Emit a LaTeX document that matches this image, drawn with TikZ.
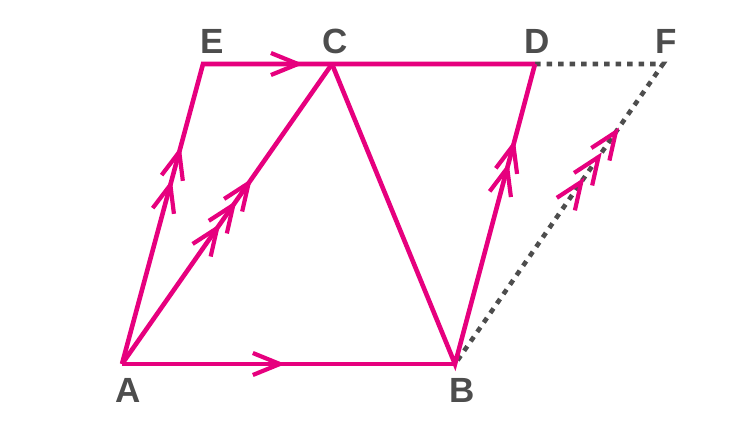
\documentclass[tikz,border=0pt]{standalone}
\usepackage{fontspec}
\setmainfont{Liberation Sans}
\usetikzlibrary{decorations.markings}
\definecolor{pinkc}{HTML}{E6007E}
\definecolor{grayc}{HTML}{4D4D4D}
\newcommand{\chevmark}{\draw[chevline] (-27pt,-11pt) -- (0,0) -- (-27pt,11pt);}
\tikzset{
  pinkline/.style={draw=pinkc, line width=4.6pt, line join=miter},
  chevline/.style={draw=pinkc, line width=4.2pt, line join=miter},
  dotline/.style={draw=grayc, line width=4.6pt, dash pattern=on 5.5pt off 6pt},
  lbl/.style={text=grayc, inner sep=0pt, font=\bfseries\fontsize{35}{42}\selectfont},
}
\begin{document}
\begin{tikzpicture}[x=1pt,y=-1pt]
\useasboundingbox (0,0) rectangle (750,424);
\coordinate (A) at (122,364);
\coordinate (B) at (455,364);
\coordinate (C) at (332,64);
\coordinate (D) at (535,64);
\coordinate (E) at (203,64);
\coordinate (F) at (663,64);
% dotted
\draw[dotline] (D) -- (F) -- (B);
% pink lines
\draw[pinkline] (A) -- (E) -- (C) -- (D);
\draw[pinkline] (A) -- (B);
\draw[pinkline] (A) -- (C);
\draw[pinkline] (C) -- (B) -- (D);
% arrow marks
\path[decoration={markings, mark=at position 0.474 with {\chevmark}}, postaction={decorate}] (A) -- (B);
\path[decoration={markings, mark=at position 0.736 with {\chevmark}}, postaction={decorate}] (E) -- (C);
\path[decoration={markings, mark=at position 0.597 with {\chevmark}, mark=at position 0.707 with {\chevmark}}, postaction={decorate}] (A) -- (E);
\path[decoration={markings, mark=at position 0.453 with {\chevmark}, mark=at position 0.53 with {\chevmark}, mark=at position 0.603 with {\chevmark}}, postaction={decorate}] (A) -- (C);
\path[decoration={markings, mark=at position 0.653 with {\chevmark}, mark=at position 0.73 with {\chevmark}}, postaction={decorate}] (B) -- (D);
\path[decoration={markings, mark=at position 0.607 with {\chevmark}, mark=at position 0.69 with {\chevmark}, mark=at position 0.773 with {\chevmark}}, postaction={decorate}] (B) -- (F);
% labels
\node[lbl] (lA) at (128,390) {A};
\node[lbl] (lB) at (462,390) {B};
\node[lbl] (lC) at (335,41) {C};
\node[lbl] (lD) at (537,41) {D};
\node[lbl] (lE) at (212,41) {E};
\node[lbl] (lF) at (666,41) {F};
\end{tikzpicture}
\end{document}
